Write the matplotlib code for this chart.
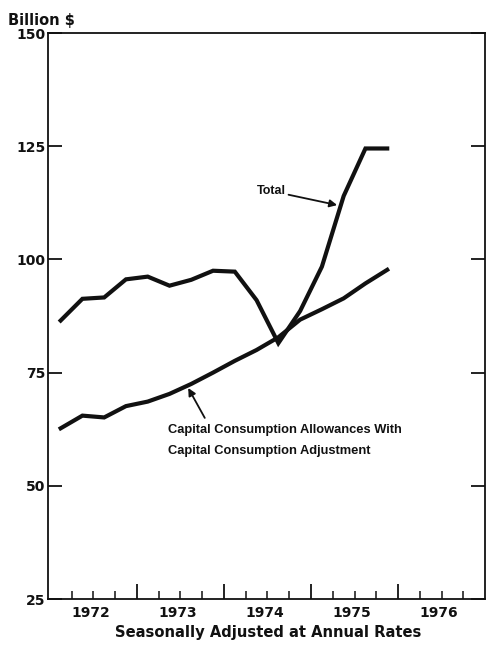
import matplotlib
matplotlib.use("Agg")
import matplotlib.pyplot as plt
import matplotlib.transforms as mtransforms
import numpy as np

# quarterly data, 1972 Q1 .. 1975 Q4, plotted at mid-quarter
quarters = np.arange(1972, 1976, 0.25) + 0.125
total = [86.5, 91.3, 91.6, 95.6, 96.2, 94.2, 95.5, 97.5,
         97.3, 91.0, 81.5, 88.6, 98.4, 114.0, 124.5, 124.5]
cca = [62.7, 65.5, 65.1, 67.6, 68.6, 70.3, 72.5, 75.0,
       77.6, 80.0, 82.8, 86.7, 89.0, 91.4, 94.7, 97.7]

years = [1972, 1973, 1974, 1975, 1976]
y_ticks = [25, 50, 75, 100, 125, 150]

INK = "#111111"
FONT = "DejaVu Sans"
NARROW = "Liberation Sans"

fig = plt.figure(figsize=(4.86, 6.45), dpi=100)
ax = fig.add_axes([0.0988, 0.0713, 0.8995, 0.8775])

ax.plot(quarters, total, color=INK, lw=3.0, solid_joinstyle="miter", zorder=3)
ax.plot(quarters, cca, color=INK, lw=3.0, solid_joinstyle="miter", zorder=3)

ax.set_xlim(1971.98, 1977.0)
ax.set_ylim(25, 150)

# axis furniture
for sp in ax.spines.values():
    sp.set_linewidth(1.3)
    sp.set_color(INK)

ax.set_yticks(y_ticks)
ax.set_yticklabels([str(v) for v in y_ticks], fontsize=10, fontweight="bold",
                   family=FONT, color=INK)
ax.tick_params(axis="y", direction="in", length=10, width=1.3, right=True,
               pad=2, colors=INK)

ax.set_xticks(years[1:])
ax.set_xticklabels([])
ax.set_xticks(np.arange(1972.25, 1977, 0.25), minor=True)
ax.tick_params(axis="x", which="major", direction="in", length=11, width=1.3,
               colors=INK)
ax.tick_params(axis="x", which="minor", direction="in", length=6, width=1.1,
               colors=INK)

trans = mtransforms.blended_transform_factory(ax.transData, ax.transAxes)
for yr in years:
    ax.text(yr + 0.47, -0.012, str(yr), transform=trans, ha="center", va="top",
            fontsize=10, fontweight="bold", family=FONT, color=INK)

fig.text(0.552, 0.008, "Seasonally Adjusted at Annual Rates", ha="center",
         va="bottom", fontsize=10.6, fontweight="bold", family=FONT, color=INK)
fig.text(0.016, 0.968, "Billion $", ha="left", va="center", fontsize=10.5,
         fontweight="bold", family=FONT, color=INK)

# annotations
arrow = dict(arrowstyle="-|>", color=INK, lw=1.3, mutation_scale=11,
             shrinkA=0, shrinkB=0)
ax.annotate("Total", xy=(1975.30, 112.0), xytext=(1974.71, 115.1),
            ha="right", va="center", fontsize=9, fontweight="bold",
            family=NARROW, color=INK, arrowprops=arrow)
ax.annotate("", xy=(1973.59, 71.6), xytext=(1973.78, 65.0),
            arrowprops=arrow)
ax.text(1973.36, 63.6,
        "Capital Consumption Allowances With\nCapital Consumption Adjustment",
        ha="left", va="top", fontsize=9.3, fontweight="bold", family=NARROW,
        color=INK, linespacing=1.95)

fig.savefig("out.png", dpi=100, facecolor="white")
